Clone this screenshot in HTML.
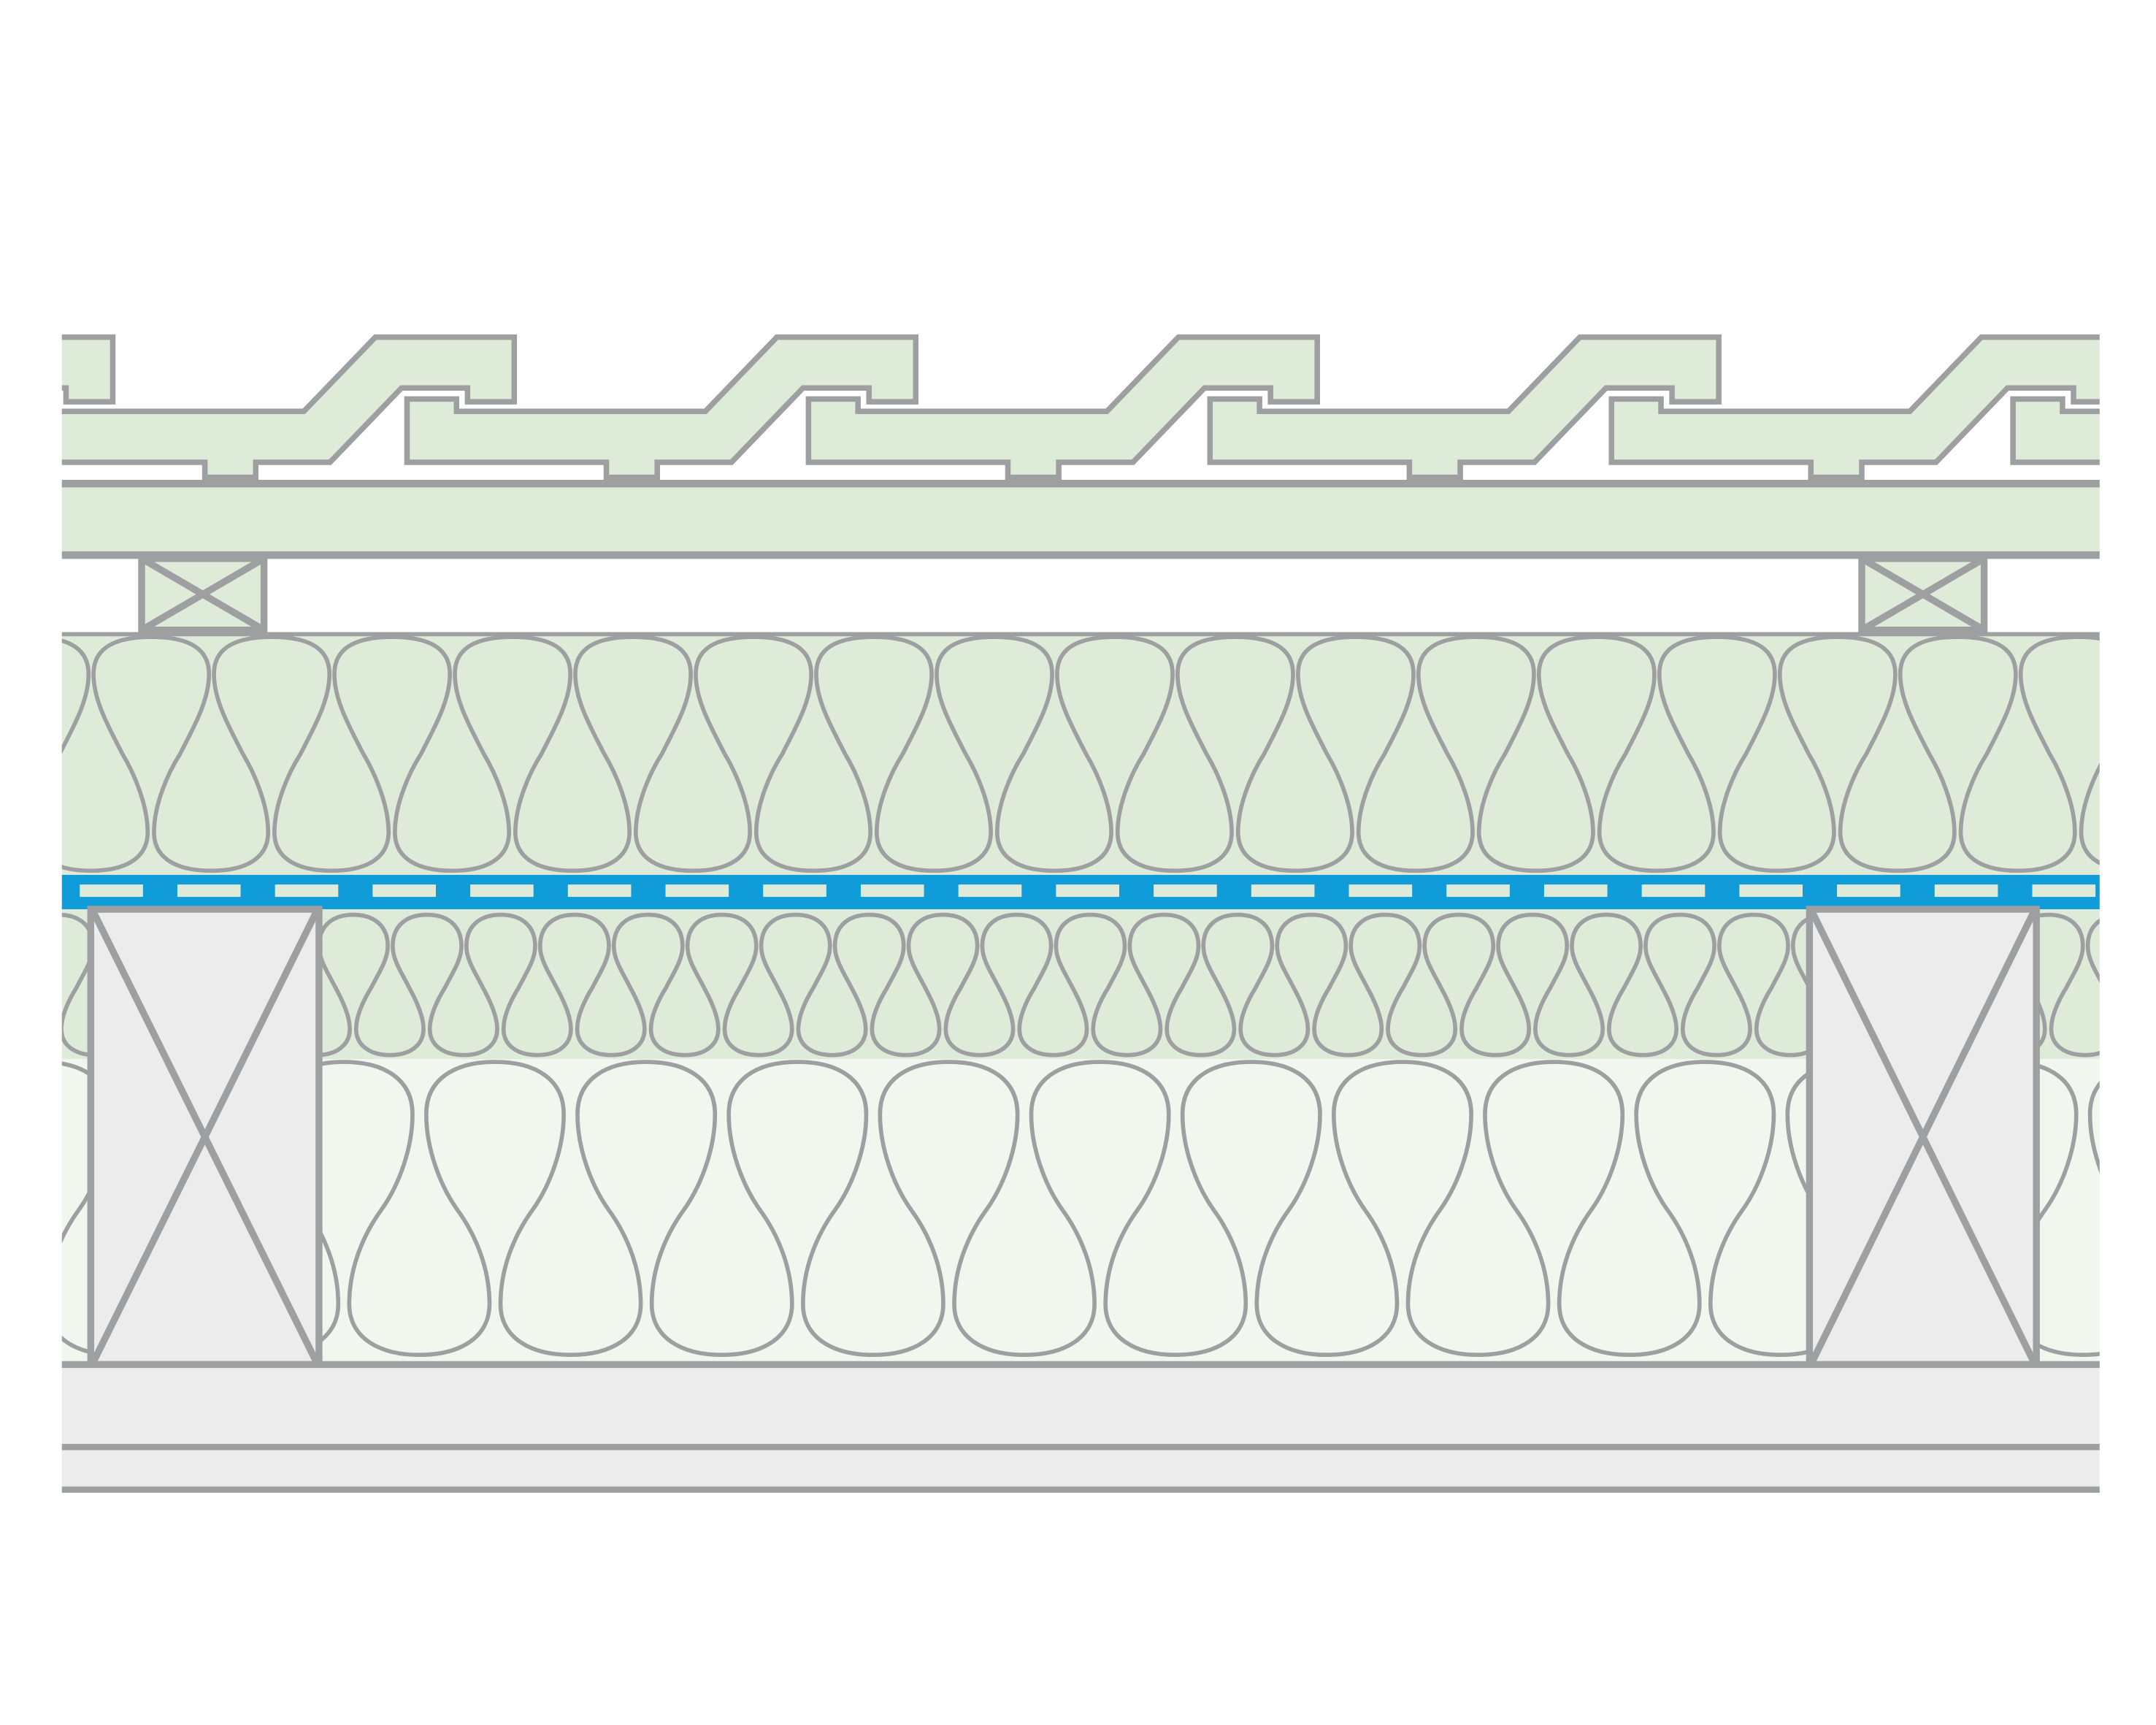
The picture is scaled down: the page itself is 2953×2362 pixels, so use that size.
<!DOCTYPE html>
<html><head><meta charset="utf-8"><style>html,body{margin:0;padding:0;background:#fff}svg{display:block}</style></head>
<body>
<svg width="2953" height="2362" viewBox="0 0 1568 1254" xmlns="http://www.w3.org/2000/svg">
<defs>
<clipPath id="c"><rect x="45" y="0" width="1482" height="1254"/></clipPath>
<polygon id="tile" points="296,290 332,290 332,299 513,299 565,245 666,245 666,292 632,292 632,282 584,282 532,336 478,336 478,347 441,347 441,336 296,336" fill="#deebd9" stroke="#9d9fa0" stroke-width="4"/>
<path id="l1" d="M-21,548 C-30,530 -42,510 -42,490 C-42,470 -25,463 0,463 C25,463 42,470 42,490 C42,510 30,530 21,548 C12,562 2,585 2,605 C2,625 20,633 43.8,633 C67,633 85,625 85,605 C85,585 75,562 66.6,548" fill="none" stroke="#9d9fa0" stroke-width="3"/>
<path id="l2" d="M-13,718 C-18,708 -25,698 -25,688 C-25,672 -14,665 0,665 C14,665 25,672 25,688 C25,698 18,708 13,718 C8,726 2,738 2,748 C2,760 12,767 26.8,767 C41,767 51,760 51,748 C51,738 45,726 40.6,718" fill="none" stroke="#9d9fa0" stroke-width="3"/>
<path id="l3" d="M-27,880 C-40,862 -50,835 -50,810 C-50,785 -30,772 0,772 C30,772 50,785 50,810 C50,835 40,862 27,880 C14,898 4,922 4,948 C4,972 25,985 55,985 C85,985 106,972 106,948 C106,922 96,898 83,880" fill="none" stroke="#9d9fa0" stroke-width="3"/>
</defs>
<g clip-path="url(#c)">
<!-- tiles -->
<use href="#tile" x="-584"/><use href="#tile" x="-292"/><use href="#tile" x="0"/><use href="#tile" x="292"/><use href="#tile" x="584"/><use href="#tile" x="876"/><use href="#tile" x="1168"/>
<!-- board -->
<rect x="30" y="351" width="1520" height="53" fill="#deebd9"/>
<line x1="30" y1="351.5" x2="1550" y2="351.5" stroke="#9d9fa0" stroke-width="5.5"/>
<line x1="30" y1="403.5" x2="1550" y2="403.5" stroke="#9d9fa0" stroke-width="5.5"/>
<!-- counter battens -->
<g stroke="#9d9fa0" stroke-width="5" fill="#deebd9">
<rect x="103" y="406" width="89" height="52"/><line x1="103" y1="406" x2="192" y2="458"/><line x1="192" y1="406" x2="103" y2="458"/>
<rect x="1354" y="406" width="89" height="52"/><line x1="1354" y1="406" x2="1443" y2="458"/><line x1="1443" y1="406" x2="1354" y2="458"/>
</g>
<!-- top insulation -->
<rect x="30" y="461" width="1520" height="176" fill="#deebd9"/>
<line x1="30" y1="461" x2="1550" y2="461" stroke="#9d9fa0" stroke-width="3"/>
<g transform="translate(22.4,0)">
<use href="#l1" x="0"/><use href="#l1" x="87.6"/><use href="#l1" x="175.2"/><use href="#l1" x="262.8"/><use href="#l1" x="350.4"/><use href="#l1" x="438"/><use href="#l1" x="525.6"/><use href="#l1" x="613.2"/><use href="#l1" x="700.8"/><use href="#l1" x="788.4"/><use href="#l1" x="876"/><use href="#l1" x="963.6"/><use href="#l1" x="1051.2"/><use href="#l1" x="1138.8"/><use href="#l1" x="1226.4"/><use href="#l1" x="1314"/><use href="#l1" x="1401.6"/><use href="#l1" x="1489.2"/><use href="#l1" x="1576.8"/>
</g>
<!-- lower small insulation -->
<rect x="30" y="660" width="1520" height="110" fill="#deebd9"/>
<g transform="translate(-11,0)">
<use href="#l2" x="0"/><use href="#l2" x="53.6"/><use href="#l2" x="107.2"/><use href="#l2" x="160.8"/><use href="#l2" x="214.4"/><use href="#l2" x="268"/><use href="#l2" x="321.6"/><use href="#l2" x="375.2"/><use href="#l2" x="428.8"/><use href="#l2" x="482.4"/><use href="#l2" x="536"/><use href="#l2" x="589.6"/><use href="#l2" x="643.2"/><use href="#l2" x="696.8"/><use href="#l2" x="750.4"/><use href="#l2" x="804"/><use href="#l2" x="857.6"/><use href="#l2" x="911.2"/><use href="#l2" x="964.8"/><use href="#l2" x="1018.4"/><use href="#l2" x="1072"/><use href="#l2" x="1125.6"/><use href="#l2" x="1179.2"/><use href="#l2" x="1232.8"/><use href="#l2" x="1286.4"/><use href="#l2" x="1340"/><use href="#l2" x="1393.6"/><use href="#l2" x="1447.2"/><use href="#l2" x="1500.8"/><use href="#l2" x="1554.4"/><use href="#l2" x="1608"/>
</g>
<!-- lower big insulation -->
<rect x="30" y="770" width="1520" height="222" fill="#f1f6ef"/>
<g transform="translate(30,0)">
<use href="#l3" x="0"/><use href="#l3" x="110"/><use href="#l3" x="220"/><use href="#l3" x="330"/><use href="#l3" x="440"/><use href="#l3" x="550"/><use href="#l3" x="660"/><use href="#l3" x="770"/><use href="#l3" x="880"/><use href="#l3" x="990"/><use href="#l3" x="1100"/><use href="#l3" x="1210"/><use href="#l3" x="1320"/><use href="#l3" x="1430"/><use href="#l3" x="1540"/>
</g>
<!-- membrane -->
<rect x="30" y="636" width="1520" height="25" fill="#109cd9"/>
<g fill="#deebd9">
<rect x="58" y="643" width="46" height="9"/><rect x="129" y="643" width="46" height="9"/><rect x="200" y="643" width="46" height="9"/><rect x="271" y="643" width="46" height="9"/><rect x="342" y="643" width="46" height="9"/><rect x="413" y="643" width="46" height="9"/><rect x="484" y="643" width="46" height="9"/><rect x="555" y="643" width="46" height="9"/><rect x="626" y="643" width="46" height="9"/><rect x="697" y="643" width="46" height="9"/><rect x="768" y="643" width="46" height="9"/><rect x="839" y="643" width="46" height="9"/><rect x="910" y="643" width="46" height="9"/><rect x="981" y="643" width="46" height="9"/><rect x="1052" y="643" width="46" height="9"/><rect x="1123" y="643" width="46" height="9"/><rect x="1194" y="643" width="46" height="9"/><rect x="1265" y="643" width="46" height="9"/><rect x="1336" y="643" width="46" height="9"/><rect x="1407" y="643" width="46" height="9"/><rect x="1478" y="643" width="46" height="9"/>
</g>
<!-- studs -->
<g stroke="#9d9fa0" stroke-width="5" fill="#ececec">
<rect x="66" y="661" width="166" height="331"/><line x1="68" y1="663" x2="230" y2="990"/><line x1="230" y1="663" x2="68" y2="990"/>
<rect x="1316" y="661" width="165" height="331"/><line x1="1318" y1="663" x2="1479" y2="990"/><line x1="1479" y1="663" x2="1318" y2="990"/>
</g>
<!-- bottom boards -->
<rect x="30" y="992" width="1520" height="91" fill="#ececec"/>
<line x1="30" y1="992" x2="1550" y2="992" stroke="#9d9fa0" stroke-width="5"/>
<line x1="30" y1="1052" x2="1550" y2="1052" stroke="#9d9fa0" stroke-width="4.5"/>
<line x1="30" y1="1083" x2="1550" y2="1083" stroke="#9d9fa0" stroke-width="4.5"/>
</g>
</svg>
</body></html>
